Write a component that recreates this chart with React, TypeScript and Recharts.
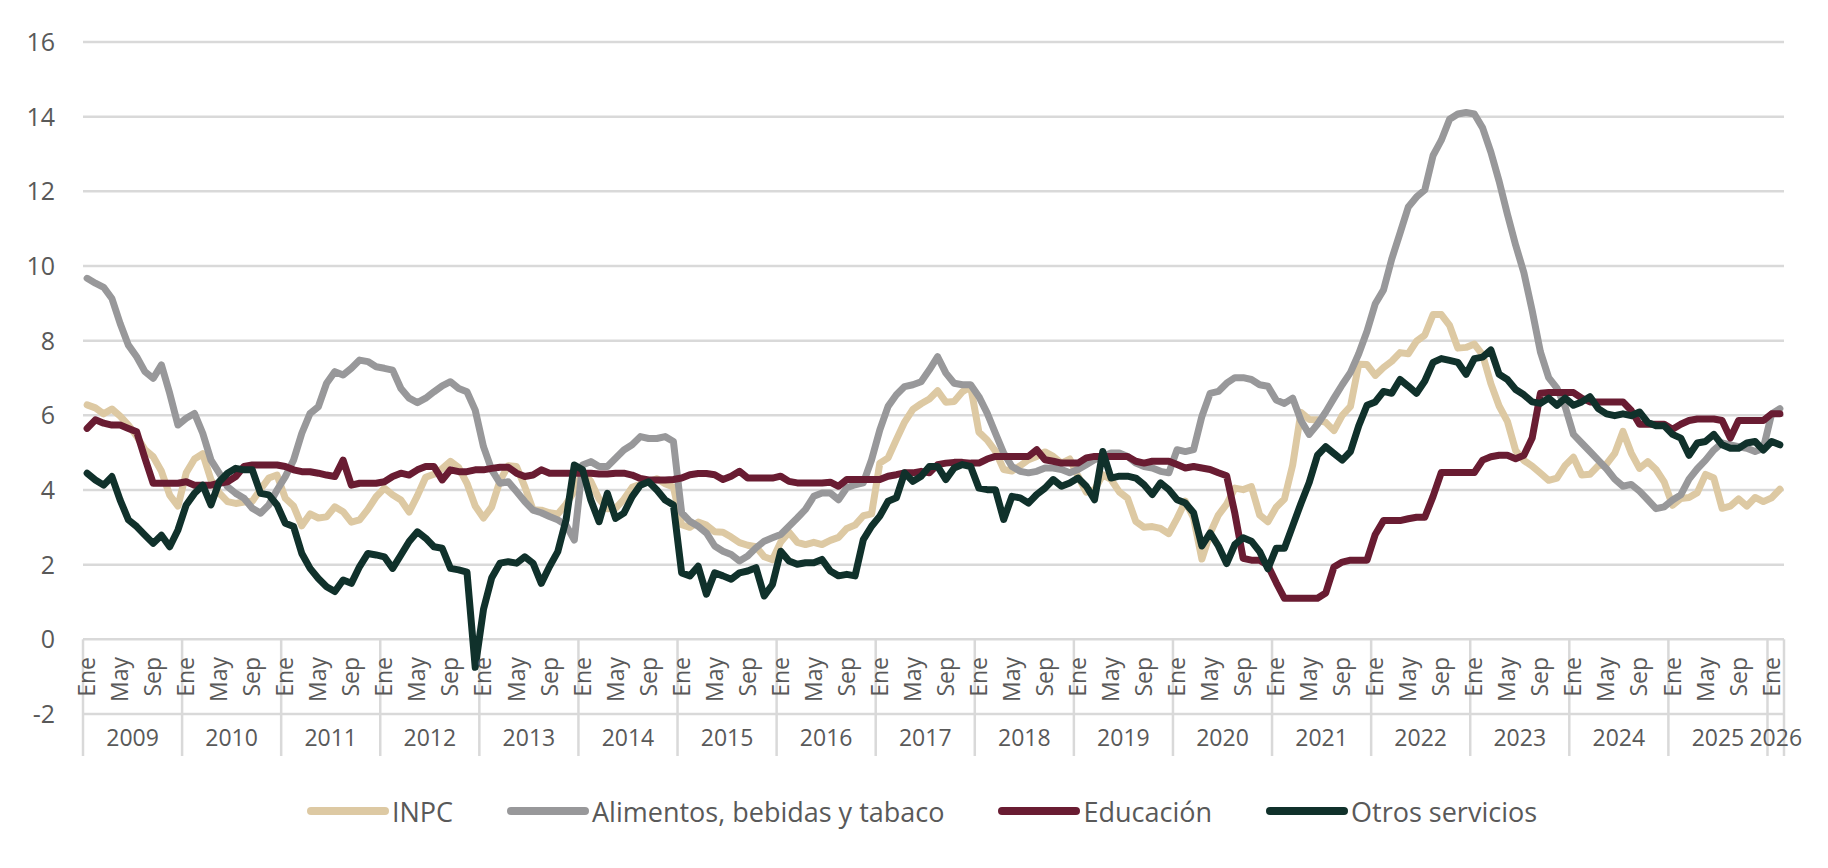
import React from "react";
import {
  LineChart,
  Line,
  XAxis,
  YAxis,
  CartesianGrid,
  ReferenceLine,
  Legend,
} from "recharts";

const FONT = "'Open Sans', 'Noto Sans', sans-serif";
const TEXT = "#595959";
const GRID = "#d9d9d9";

const MONTHS = ["Ene", "Feb", "Mar", "Abr", "May", "Jun", "Jul", "Ago", "Sep", "Oct", "Nov", "Dic"];
const SHOWN_MONTHS = ["Ene", "May", "Sep"];
const YEARS = [
  "2009", "2010", "2011", "2012", "2013", "2014", "2015", "2016", "2017",
  "2018", "2019", "2020", "2021", "2022", "2023", "2024", "2025", "2026",
];
const Y_TICKS = [-2, 0, 2, 4, 6, 8, 10, 12, 14, 16];

// annual % change, monthly, Ene 2009 - Feb 2026
const INPC = [
  6.28, 6.2, 6.04, 6.17, 5.98, 5.74, 5.44, 5.08, 4.89, 4.5, 3.86, 3.57,
  4.46, 4.83, 4.97, 4.27, 3.92, 3.69, 3.64, 3.68, 3.7, 4.02, 4.32, 4.4,
  3.78, 3.57, 3.04, 3.36, 3.25, 3.28, 3.55, 3.42, 3.14, 3.2, 3.48, 3.82,
  4.05, 3.87, 3.73, 3.41, 3.85, 4.34, 4.42, 4.57, 4.77, 4.6, 4.18, 3.57,
  3.25, 3.55, 4.25, 4.65, 4.63, 4.09, 3.47, 3.46, 3.39, 3.36, 3.62, 3.97,
  4.48, 4.23, 3.76, 3.5, 3.51, 3.75, 4.07, 4.15, 4.22, 4.3, 4.17, 4.08,
  3.07, 3.0, 3.14, 3.06, 2.88, 2.87, 2.74, 2.59, 2.52, 2.48, 2.21, 2.13,
  2.61, 2.87, 2.6, 2.54, 2.6, 2.54, 2.65, 2.73, 2.97, 3.06, 3.31, 3.36,
  4.72, 4.86, 5.35, 5.82, 6.16, 6.31, 6.44, 6.66, 6.35, 6.37, 6.63, 6.77,
  5.55, 5.34, 5.04, 4.55, 4.51, 4.65, 4.81, 4.9, 5.02, 4.9, 4.72, 4.83,
  4.37, 3.94, 4.0, 4.41, 4.28, 3.95, 3.78, 3.16, 3.0, 3.02, 2.97, 2.83,
  3.24, 3.7, 3.25, 2.15, 2.84, 3.33, 3.62, 4.05, 4.01, 4.09, 3.33, 3.15,
  3.54, 3.76, 4.67, 6.08, 5.89, 5.88, 5.81, 5.59, 6.0, 6.24, 7.37, 7.36,
  7.07, 7.28, 7.45, 7.68, 7.65, 7.99, 8.15, 8.7, 8.7, 8.41, 7.8, 7.82,
  7.91, 7.62, 6.85, 6.25, 5.84, 5.06, 4.79, 4.64, 4.45, 4.26, 4.32, 4.66,
  4.88, 4.4, 4.42, 4.65, 4.69, 4.98, 5.57, 4.99, 4.58, 4.76, 4.55, 4.21,
  3.59, 3.77, 3.8, 3.93, 4.42, 4.32, 3.51, 3.57, 3.76, 3.57, 3.8, 3.69,
  3.79, 4.02,
];

const ALIMENTOS = [
  9.67, 9.54, 9.43, 9.13, 8.46, 7.88, 7.57, 7.17, 6.99, 7.35, 6.59, 5.74,
  5.92, 6.05, 5.52, 4.8, 4.45, 4.09, 3.91, 3.78, 3.51, 3.38, 3.6, 4.0,
  4.36, 4.8, 5.52, 6.05, 6.23, 6.86, 7.17, 7.08, 7.26, 7.48, 7.44, 7.3,
  7.26, 7.21, 6.72, 6.46, 6.34, 6.46, 6.63, 6.79, 6.9, 6.72, 6.63, 6.14,
  5.16, 4.54, 4.18, 4.22, 3.96, 3.69, 3.46, 3.39, 3.29, 3.2, 3.06, 2.66,
  4.67, 4.76, 4.63, 4.63, 4.85, 5.07, 5.21, 5.43, 5.38, 5.38, 5.43, 5.3,
  3.39, 3.16, 3.03, 2.85, 2.5, 2.36, 2.27, 2.1, 2.23, 2.45, 2.63, 2.72,
  2.81, 3.03, 3.25, 3.48, 3.83, 3.92, 3.92, 3.74, 4.06, 4.14, 4.19, 4.81,
  5.61, 6.24, 6.55, 6.77, 6.82, 6.9, 7.22, 7.57, 7.13, 6.86, 6.82, 6.82,
  6.5, 6.06, 5.52, 4.99, 4.63, 4.5, 4.46, 4.5, 4.59, 4.59, 4.55, 4.46,
  4.55, 4.68, 4.81, 4.9, 4.99, 4.99, 4.9, 4.72, 4.63, 4.59, 4.5, 4.46,
  5.08, 5.03, 5.08, 5.97, 6.59, 6.64, 6.86, 7.01, 7.01, 6.96, 6.82, 6.78,
  6.41, 6.32, 6.46, 5.86, 5.49, 5.76, 6.09, 6.46, 6.82, 7.15, 7.65, 8.25,
  8.99, 9.36, 10.19, 10.88, 11.58, 11.85, 12.04, 12.96, 13.37, 13.93, 14.07, 14.11,
  14.07, 13.7, 13.05, 12.27, 11.39, 10.56, 9.82, 8.81, 7.7, 7.01, 6.73, 6.23,
  5.49, 5.26, 5.03, 4.8, 4.57, 4.29, 4.1, 4.15, 3.97, 3.74, 3.5, 3.55,
  3.73, 3.87, 4.29, 4.57, 4.8, 5.07, 5.26, 5.21, 5.16, 5.12, 5.03, 5.12,
  6.04, 6.18,
];

const EDUCACION = [
  5.65, 5.88, 5.79, 5.74, 5.74, 5.65, 5.56, 4.85, 4.18, 4.18, 4.18, 4.18,
  4.22, 4.13, 4.13, 4.13, 4.18, 4.22, 4.36, 4.63, 4.67, 4.67, 4.67, 4.67,
  4.63, 4.54, 4.49, 4.49, 4.45, 4.4, 4.36, 4.8, 4.13, 4.18, 4.18, 4.18,
  4.22, 4.36, 4.45, 4.4, 4.54, 4.63, 4.63, 4.27, 4.54, 4.49, 4.49, 4.54,
  4.54, 4.58, 4.61, 4.61, 4.45, 4.36, 4.4, 4.54, 4.45, 4.45, 4.45, 4.45,
  4.45, 4.45, 4.43, 4.43, 4.45, 4.45, 4.4, 4.31, 4.27, 4.27, 4.27, 4.28,
  4.32, 4.41, 4.44, 4.44, 4.41, 4.28, 4.37, 4.5, 4.32, 4.32, 4.32, 4.32,
  4.37, 4.23, 4.19, 4.19, 4.19, 4.19, 4.21, 4.1, 4.28, 4.28, 4.28, 4.28,
  4.28, 4.37, 4.41, 4.46, 4.46, 4.5, 4.46, 4.68, 4.72, 4.74, 4.74, 4.72,
  4.72, 4.83, 4.9, 4.9, 4.9, 4.9, 4.9, 5.08, 4.81, 4.77, 4.72, 4.72,
  4.72, 4.86, 4.9, 4.9, 4.9, 4.9, 4.9, 4.77, 4.72, 4.77, 4.77, 4.77,
  4.68, 4.59, 4.63, 4.59, 4.55, 4.46, 4.38, 3.37, 2.17, 2.12, 2.12, 1.98,
  1.52, 1.1, 1.1, 1.1, 1.1, 1.1, 1.24, 1.94, 2.07, 2.12, 2.12, 2.12,
  2.81, 3.18, 3.18, 3.18, 3.23, 3.27, 3.27, 3.83, 4.47, 4.47, 4.47, 4.47,
  4.47, 4.8, 4.89, 4.93, 4.93, 4.84, 4.93, 5.39, 6.59, 6.61, 6.61, 6.61,
  6.61, 6.46, 6.36, 6.36, 6.36, 6.36, 6.36, 6.13, 5.76, 5.76, 5.76, 5.76,
  5.63, 5.76, 5.86, 5.9, 5.9, 5.9, 5.86, 5.39, 5.86, 5.86, 5.86, 5.86,
  6.04, 6.04,
];

const OTROS = [
  4.45, 4.27, 4.13, 4.36, 3.73, 3.2, 3.02, 2.79, 2.57, 2.79, 2.48, 2.93,
  3.6, 3.91, 4.13, 3.6, 4.22, 4.45, 4.58, 4.54, 4.54, 3.91, 3.87, 3.6,
  3.11, 3.02, 2.3, 1.9, 1.63, 1.41, 1.28, 1.59, 1.5, 1.95, 2.3, 2.26,
  2.21, 1.9, 2.26, 2.62, 2.88, 2.71, 2.48, 2.44, 1.9, 1.86, 1.8, -0.75,
  0.8, 1.65, 2.04, 2.08, 2.04, 2.21, 2.04, 1.5, 1.95, 2.35, 3.2, 4.67,
  4.54, 3.73, 3.15, 3.91, 3.24, 3.38, 3.82, 4.13, 4.22, 4.0, 3.73, 3.6,
  1.78, 1.7, 1.96, 1.21, 1.78, 1.7, 1.61, 1.78, 1.83, 1.92, 1.16, 1.47,
  2.36, 2.1, 2.01, 2.05, 2.05, 2.14, 1.83, 1.7, 1.74, 1.7, 2.67, 3.03,
  3.3, 3.7, 3.79, 4.46, 4.23, 4.37, 4.63, 4.63, 4.28, 4.59, 4.68, 4.63,
  4.05, 4.01, 4.01, 3.21, 3.83, 3.79, 3.65, 3.88, 4.05, 4.28, 4.1, 4.19,
  4.32, 4.1, 3.74, 5.03, 4.32, 4.37, 4.37, 4.32, 4.14, 3.88, 4.19, 4.01,
  3.74, 3.65, 3.39, 2.5, 2.85, 2.5, 2.03, 2.54, 2.72, 2.63, 2.35, 1.89,
  2.44, 2.44, 3.04, 3.64, 4.2, 4.93, 5.16, 4.98, 4.8, 5.03, 5.72, 6.27,
  6.36, 6.64, 6.59, 6.96, 6.78, 6.59, 6.92, 7.42, 7.52, 7.47, 7.42, 7.1,
  7.52, 7.56, 7.75, 7.1, 6.96, 6.69, 6.55, 6.36, 6.32, 6.46, 6.27, 6.46,
  6.27, 6.36, 6.5, 6.18, 6.04, 5.99, 6.04, 5.99, 6.09, 5.81, 5.72, 5.72,
  5.49, 5.39, 4.93, 5.26, 5.3, 5.49, 5.21, 5.12, 5.12, 5.26, 5.3, 5.07,
  5.3, 5.21,
];

const SERIES = [
  { key: "inpc", name: "INPC", color: "#DDC9A3" },
  { key: "alimentos", name: "Alimentos, bebidas y tabaco", color: "#98989A" },
  { key: "educacion", name: "Educación", color: "#691C32" },
  { key: "otros", name: "Otros servicios", color: "#10312B" },
];

const rows = INPC.map((v, i) => ({
  i,
  inpc: v,
  alimentos: ALIMENTOS[i],
  educacion: EDUCACION[i],
  otros: OTROS[i],
}));

const last = rows.length - 1;
const X_DOMAIN = [-0.5, last + 0.5];
const monthTicks = rows.filter((r) => SHOWN_MONTHS.includes(MONTHS[r.i % 12])).map((r) => r.i);
const yearMids = YEARS.map((_, k) => (k * 12 + Math.min(k * 12 + 11, last)) / 2);
const yearEdges = [...YEARS.map((_, k) => k * 12 - 0.5), last + 0.5];
// separators run from the 0 line down through the year row
const ROW_BOTTOM = -3.125;

const MonthTick = ({ x, y, payload }: any) => {
  const tx = x + 8;
  const ty = y - 57;
  return (
    <text
      x={tx}
      y={ty}
      transform={`rotate(-90 ${tx} ${ty})`}
      textAnchor="end"
      fill={TEXT}
      fontSize={23}
      fontFamily={FONT}
    >
      {MONTHS[payload.value % 12]}
    </text>
  );
};

const YearTick = ({ x, y, payload }: any) => (
  <text x={x} y={y + 31} textAnchor="middle" fill={TEXT} fontSize={23} fontFamily={FONT}>
    {YEARS[Math.floor(payload.value / 12)]}
  </text>
);

const legendRank = (name: string) => SERIES.findIndex((s) => s.name === name);

const renderLegend = ({ payload }: any) => {
  const items = [...(payload || [])].sort((a: any, b: any) => legendRank(a.value) - legendRank(b.value));
  return (
    <div
      style={{
        display: "flex",
        justifyContent: "center",
        alignItems: "center",
        height: 52,
        paddingLeft: 16,
        fontFamily: FONT,
        fontSize: 27,
        color: TEXT,
      }}
    >
      {items.map((p: any) => (
        <div key={p.value} style={{ display: "flex", alignItems: "center", margin: "0 27px" }}>
          <span
            style={{
              display: "inline-block",
              width: 82,
              height: 8,
              borderRadius: 4,
              background: p.color,
              marginRight: 3,
            }}
          />
          <span>{p.value}</span>
        </div>
      ))}
    </div>
  );
};

export default function App() {
  return (
    <div style={{ width: 1812, height: 852, fontFamily: FONT }}>
      <LineChart
        width={1812}
        height={852}
        data={rows}
        margin={{ top: 34, right: 36, bottom: 16, left: 0 }}
      >
        <CartesianGrid xAxisId="m" yAxisId="v" vertical={false} stroke={GRID} strokeWidth={2.5} />
        <XAxis
          xAxisId="m"
          dataKey="i"
          type="number"
          domain={X_DOMAIN}
          ticks={monthTicks}
          interval={0}
          height={1}
          tick={<MonthTick />}
          tickLine={false}
          axisLine={false}
          tickSize={0}
          tickMargin={0}
        />
        <XAxis
          xAxisId="yr"
          dataKey="i"
          type="number"
          domain={X_DOMAIN}
          ticks={yearMids}
          interval={0}
          height={77}
          tick={<YearTick />}
          tickLine={false}
          axisLine={false}
          tickSize={0}
          tickMargin={0}
        />
        <YAxis
          yAxisId="v"
          domain={[-2, 16]}
          ticks={Y_TICKS}
          width={75}
          tickLine={false}
          axisLine={false}
          tickSize={0}
          tickMargin={28}
          tick={{ fill: TEXT, fontSize: 25, fontFamily: FONT }}
        />
        {yearEdges.map((e) => (
          <ReferenceLine
            key={e}
            xAxisId="m"
            yAxisId="v"
            segment={[
              { x: e, y: 0 },
              { x: e, y: ROW_BOTTOM },
            ]}
            stroke={GRID}
            strokeWidth={2.5}
            ifOverflow="visible"
          />
        ))}
        {SERIES.map((s) => (
          <Line
            key={s.key}
            xAxisId="m"
            yAxisId="v"
            type="linear"
            dataKey={s.key}
            name={s.name}
            stroke={s.color}
            strokeWidth={7}
            strokeLinejoin="round"
            strokeLinecap="round"
            dot={false}
            activeDot={false}
            isAnimationActive={false}
          />
        ))}
        <Legend
          verticalAlign="bottom"
          content={renderLegend}
          wrapperStyle={{ left: 0, width: 1812, bottom: 23 }}
        />
      </LineChart>
    </div>
  );
}
